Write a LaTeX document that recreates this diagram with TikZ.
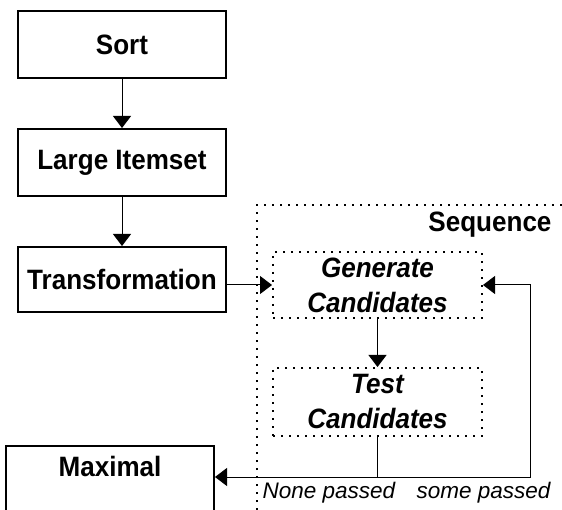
\documentclass[tikz,border=0pt]{standalone}
\usepackage{fontspec}
\setmainfont[FakeStretch=0.93]{Liberation Sans}
\newfontfamily\outcomefont{Liberation Sans}
\usetikzlibrary{arrows.meta}

\begin{document}
\begin{tikzpicture}[x=1pt, y=-1pt,
	stage/.style = {draw, line width=2pt, minimum width=208pt, minimum height=67pt,
		inner sep=0pt, font=\bfseries\fontsize{28}{32}\selectfont},
	substage/.style = {draw, line width=2pt, dash pattern=on 2pt off 6pt,
		minimum width=209pt, inner sep=0pt, align=center,
		font=\bfseries\itshape\fontsize{28}{35}\selectfont},
	flow/.style = {line width=1pt, -{Triangle[length=12pt, width=18pt]}},
	outcome/.style = {font=\outcomefont\itshape\fontsize{22.5}{26}\selectfont}]
	\useasboundingbox (0,0) rectangle (562,510);

	% main chain
	\node[stage] (sort) at (122,44.5) {Sort};
	\node[stage] (large) at (122,162.5) {Large Itemset};
	\node[stage, minimum height=65pt] (trans) at (122,279.5) {Transformation};
	\node[stage, anchor=north, text height=30pt, text depth=38pt] (maximal) at (110,445) {Maximal};

	% sequence phase
	\draw[line width=2pt, dash pattern=on 2pt off 6pt] (257,510) -- (257,205) -- (562,205);
	\node[anchor=base east, font=\bfseries\fontsize{28}{32}\selectfont] (seq) at (555,232) {Sequence};
	\node[substage, minimum height=66pt] (gen) at (377.5,285) {Generate\\Candidates};
	\node[substage, minimum height=68pt] (test) at (377.5,402) {Test\\Candidates};

	\draw[flow] (sort) -- (large);
	\draw[flow] (large) -- (trans);
	\draw[flow] (trans.east |- gen.west) -- (gen.west);
	\draw[flow] (gen) -- (test);

	\coordinate (split) at (test.south |- 0,477);
	\coordinate (turn) at (530,477);
	\draw[line width=1pt] (test) -- (split);
	\draw[flow] (split) -- (maximal.east |- split);
	\draw[flow] (split) -- (turn) |- (gen.east);

	\node[outcome, anchor=base west] (none) at (259,498) {None passed};
	\node[outcome, anchor=base east] (some) at (554,498) {some passed};
\end{tikzpicture}
\end{document}
